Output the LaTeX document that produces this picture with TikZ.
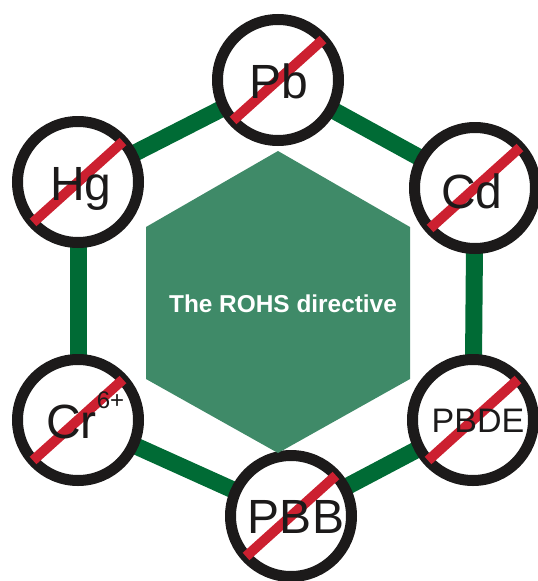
\documentclass[tikz,border=0pt]{standalone}
\usepackage{fontspec}
\setmainfont{Liberation Sans}
\usetikzlibrary{calc}
\definecolor{linegreen}{HTML}{006B35}
\definecolor{hexgreen}{HTML}{3F8A68}
\definecolor{strikered}{HTML}{CC2030}
\definecolor{ringblack}{HTML}{1C1A1A}
\pgfdeclarelayer{background}
\pgfsetlayers{background,main}
\tikzset{
  ring/.style={circle, draw=ringblack, fill=white, line width=11pt, minimum size=121pt, inner sep=0pt, outer sep=0pt},
  strike/.style={draw=strikered, line width=10pt},
  linkline/.style={draw=linegreen, line width=17pt},
  elem/.style={text=ringblack, font=\fontsize{48}{48}\selectfont, anchor=base, inner sep=0pt},
  smallelem/.style={text=ringblack, font=\fontsize{34}{34}\selectfont, anchor=base, inner sep=0pt},
  hextext/.style={text=white, font=\bfseries\fontsize{24.4}{24.4}\selectfont, anchor=base, inner sep=0pt}
}
\begin{document}
\begin{tikzpicture}[x=1pt,y=-1pt]
\useasboundingbox (0,0) rectangle (538,581);
% circles
\node[ring] (pb) at (278,80) {};
\node[ring] (hg) at (78,182) {};
\node[ring] (cd) at (475,188) {};
\node[ring] (pbde) at (473,420) {};
\node[ring] (pbb) at (291,516) {};
\node[ring] (cr) at (78,420) {};
% green connectors
\begin{pgfonlayer}{background}
\draw[linkline] (hg.center) -- (pb.center);
\draw[linkline] (pb.center) -- (cd.center);
\draw[linkline] (cd.center) -- (pbde.center);
\draw[linkline] (pbde.center) -- (pbb.center);
\draw[linkline] (pbb.center) -- (cr.center);
\draw[linkline] (cr.center) -- (hg.center);
\end{pgfonlayer}
% strikes
\foreach \n in {pb,hg,cd,pbde,pbb,cr}{
  \draw[strike] (\n.222) -- (\n.42);
}
% labels
\node[elem] (pbl) at (278.5,98) {Pb};
\node[elem] (hgl) at (81,200) {Hg};
\node[elem] (cdl) at (472,208) {Cd};
\node[elem] (pbbl) at (296,533) {PBB};
\node[smallelem] (pbdel) at (478,432) {PBDE};
\node[elem, anchor=base west] (crl) at (46,438) {Cr\raisebox{30pt}{\fontsize{24}{24}\selectfont 6+}};
% central hexagon
\fill[hexgreen] (278,151) -- (410,227) -- (410,379) -- (278,453) -- (146,379) -- (146,227) -- cycle;
\node[hextext] (rohs) at (283,312) {The ROHS directive};
\end{tikzpicture}
\end{document}
